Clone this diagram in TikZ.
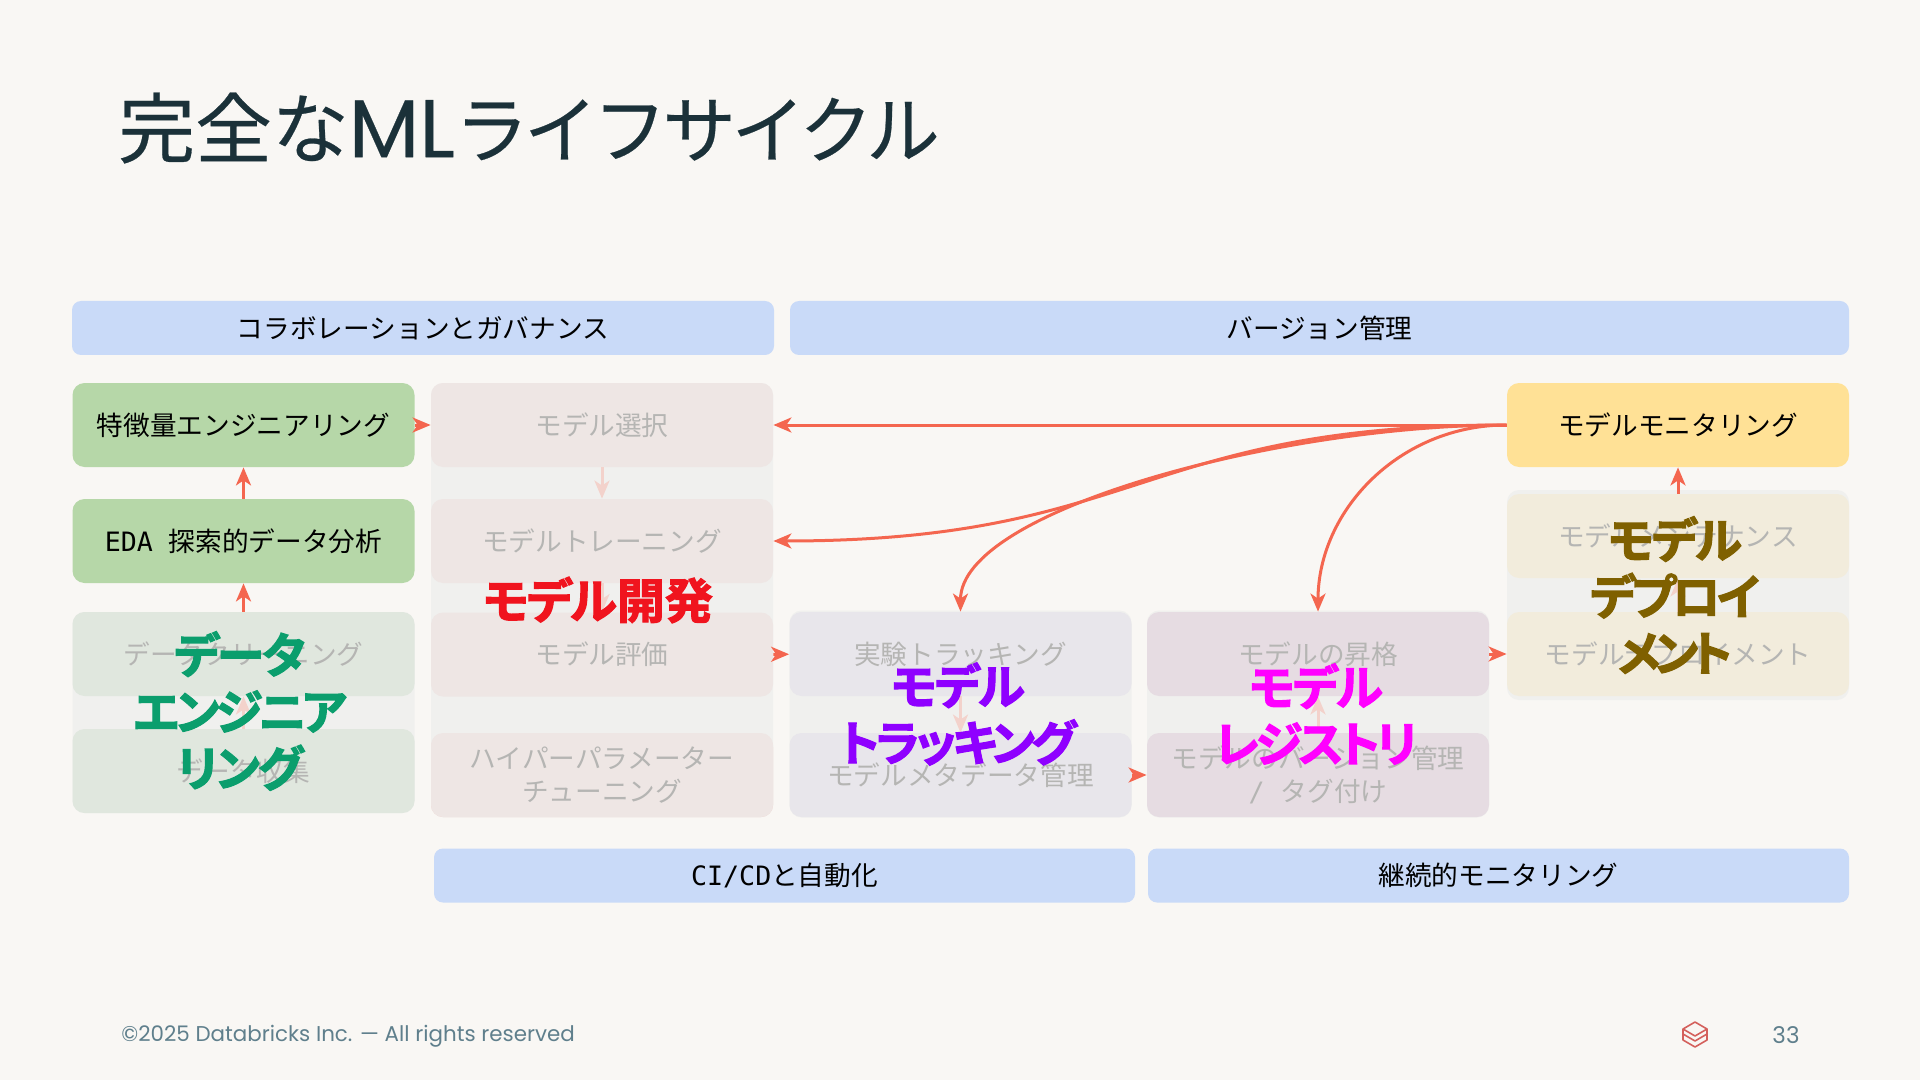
\documentclass[tikz,border=0pt]{standalone}
\usepackage{fontspec}
\usetikzlibrary{arrows.meta}
\setmainfont{Noto Sans CJK JP}
\newfontfamily\jpbold[FakeBold=2.4,RawFeature=+palt]{Noto Sans CJK JP Bold}
\newfontfamily\jpboldA[FakeBold=2.4,RawFeature=+palt,LetterSpace=-4]{Noto Sans CJK JP Bold}
\newfontfamily\jpboldB[FakeBold=2.4,RawFeature=+palt,LetterSpace=-8]{Noto Sans CJK JP Bold}
\newfontfamily\jpboldC[FakeBold=2.4,RawFeature=+palt,LetterSpace=-13]{Noto Sans CJK JP Bold}
\newfontfamily\jptitle[FakeBold=0.35]{Noto Sans CJK JP}
\newfontfamily\jptitletight[FakeBold=0.35,LetterSpace=-6]{Noto Sans CJK JP}
\newfontfamily\monolat{DejaVu Sans Mono}
\newfontfamily\geolat{Poppins}
\newfontfamily\geotitle[FakeBold=0.3]{Poppins}
\definecolor{bgc}{HTML}{F9F7F4}
\definecolor{bandc}{HTML}{C9DAF8}
\definecolor{greenc}{HTML}{B6D7A8}
\definecolor{yellowc}{HTML}{FFE196}
\definecolor{pgreen}{HTML}{E0E7DE}
\definecolor{ppink}{HTML}{EEE6E4}
\definecolor{ppinkedge}{HTML}{F3D3CE}
\definecolor{pgray}{HTML}{E8E6EB}
\definecolor{pmauve}{HTML}{E6DCE2}
\definecolor{pyellow}{HTML}{F2ECDC}
\definecolor{backc}{HTML}{F0F0EE}
\definecolor{arrowc}{HTML}{F4664F}
\definecolor{dimarrow}{HTML}{F3D2CB}
\definecolor{dimtext}{HTML}{B5B5B3}
\definecolor{titlec}{HTML}{1B3139}
\definecolor{footc}{HTML}{5F7F8C}
\definecolor{logoc}{HTML}{D4605C}
\definecolor{ovgreen}{HTML}{0B9E6D}
\definecolor{ovred}{HTML}{F0141E}
\definecolor{ovpurple}{HTML}{8F00FF}
\definecolor{ovmag}{HTML}{FF00FF}
\definecolor{ovbrown}{HTML}{7F6000}
\tikzset{
  box/.style={rectangle,rounded corners=6pt,inner sep=0pt,minimum width=171pt,minimum height=42pt,align=center,font=\fontsize{13.33}{16.5}\selectfont,text=black},
  dimbox/.style={box,text=dimtext},
  band/.style={box,rounded corners=4.5pt,fill=bandc,minimum height=27pt},
  backbox/.style={rectangle,rounded corners=6pt,fill=backc,inner sep=0pt,minimum width=171pt},
  over/.style={inner sep=0pt,align=center,font=\fontsize{24}{28.3}\jpbold\selectfont},
  conn/.style={draw=arrowc,line width=1.5pt,-{Stealth[length=9pt,width=7.5pt,inset=2.5pt]}},
  dimconn/.style={conn,draw=dimarrow}
}
\begin{document}
\begin{tikzpicture}[x=0.5pt,y=-0.5pt]
\useasboundingbox (0,0) rectangle (1920,1080);
\fill[bgc] (0,0) rectangle (1920,1080);

% title
\node[anchor=west,inner sep=0pt,text=titlec,font=\fontsize{36.8}{40}\jptitle\selectfont] (title) at (118,128) {{\fontsize{38.4}{40}\selectfont 完全な}{\fontsize{41}{40}\geotitle\selectfont ML}{\jptitletight ライフサイクル}};

% bands
\node[band,minimum width=351pt] (b1) at (423,328) {コラボレーションとガバナンス};
\node[band,minimum width=529.5pt] (b2) at (1319.5,328) {バージョン管理};
\node[band,minimum width=350.5pt] (b3) at (784.5,875.5) {{\monolat CI/CD}と自動化};
\node[band,minimum width=350.5pt] (b4) at (1498.5,875.5) {継続的モニタリング};

% column backdrops
\node[backbox,minimum height=100.5pt] (cd) at (243.5,712.5) {};
\node[backbox,minimum height=217pt] (cm) at (602,600) {};
\node[backbox,minimum height=103.5pt] (ct) at (960.5,714) {};
\node[backbox,minimum height=103.5pt] (cr) at (1318,714) {};
\node[backbox,minimum height=105pt] (cp) at (1678,595) {};

% boxes
\node[box,fill=greenc] (fe) at (243.5,425) {特徴量エンジニアリング};
\node[box,fill=greenc] (eda) at (243.5,541) {{\monolat EDA }探索的データ分析};
\node[dimbox,fill=pgreen] (clean) at (243.5,654) {データクリーニング};
\node[dimbox,fill=pgreen] (coll) at (243.5,771) {データ収集};

\node[dimbox,fill=ppink] (sel) at (602,425) {モデル選択};
\node[dimbox,fill=ppink] (train) at (602,541) {モデルトレーニング};
\node[dimbox,fill=ppink] (eval) at (602,654.5) {モデル評価};
\fill[ppinkedge,rounded corners=6pt] (431,735) rectangle (773,817);
\node[dimbox,fill=ppink] (hyper) at (602,775) {ハイパーパラメーター\\チューニング};

\node[dimbox,fill=pgray] (track) at (960.5,654) {実験トラッキング};
\node[dimbox,fill=pgray] (meta) at (960.5,775) {モデルメタデータ管理};

\node[dimbox,fill=pmauve] (promo) at (1318,654) {モデルの昇格};
\node[dimbox,fill=pmauve] (ver) at (1318,775) {モデルのバージョン管理\\{\monolat / }タグ付け};

\node[box,fill=yellowc] (mon) at (1678,425) {モデルモニタリング};
\node[dimbox,fill=pyellow] (serve) at (1678,536) {モデルメンテナンス};
\node[dimbox,fill=pyellow] (dep) at (1678,654) {モデルデプロイメント};

% dim connectors
\draw[dimconn] (sel) -- (train);
\draw[dimconn] (train) -- (eval);
\draw[dimconn] (coll) -- (clean);
\draw[dimconn] (track) -- (meta);
\draw[dimconn] (ver) -- (promo);
\draw[dimconn] (dep) -- (serve);

% connectors
\draw[conn] (eda) -- (fe);
\draw[conn] (clean) -- (eda);
\draw[conn] (fe) -- (sel);
\draw[conn] (eval) -- (track);
\draw[conn] (meta) -- (ver);
\draw[conn] (promo) -- (dep);
\draw[conn] (serve) -- (mon);
\draw[conn] (mon.west) -- (sel.east);
\draw[conn] (mon.west) .. controls (1140,425) and (1140,541) .. (train.east);
\draw[conn] (mon.west) .. controls (1280,425) and (960.5,510) .. (track.north);
\draw[conn] (mon.west) .. controls (1400,425) and (1318,510) .. (promo.north);

% overlay titles
\node[over,text=ovgreen] (ode) at (240,711) {{\jpboldA データ}\\{\jpboldB エンジニア}\\{\jpboldA リング}};
\node[over,text=ovred] (omd) at (598,600) {{\jpboldA モデル}開発};
\node[over,text=ovpurple] (otr) at (958,714) {{\jpboldA モデル}\\{\jpboldB トラッキング}};
\node[over,text=ovmag] (org) at (1316,714) {{\jpboldA モデル}\\{\jpboldB レジストリ}};
\node[over,text=ovbrown] (odp) at (1675,595) {{\jpboldA モデル}\\{\jpboldB デプロイ}\\{\jpboldC メント}};

% footer
\node[anchor=west,inner sep=0pt,text=footc,font=\fontsize{10.7}{14}\geolat\selectfont] (foot) at (121,1036) {©2025 Databricks Inc. — All rights reserved};
\node[inner sep=0pt,text=footc,font=\fontsize{11.5}{14}\geolat\selectfont] (page) at (1786,1035) {33};
\begin{scope}[draw=logoc,line width=0.8pt,line join=round]
\draw (1695,1022) -- (1707,1029) -- (1695,1036) -- (1683,1029) -- cycle;
\draw (1683,1029) -- (1683,1034) -- (1695,1041) -- (1707,1034) -- (1707,1029);
\draw (1683,1034) -- (1683,1040) -- (1695,1047) -- (1707,1040) -- (1707,1034);
\end{scope}
\end{tikzpicture}
\end{document}
